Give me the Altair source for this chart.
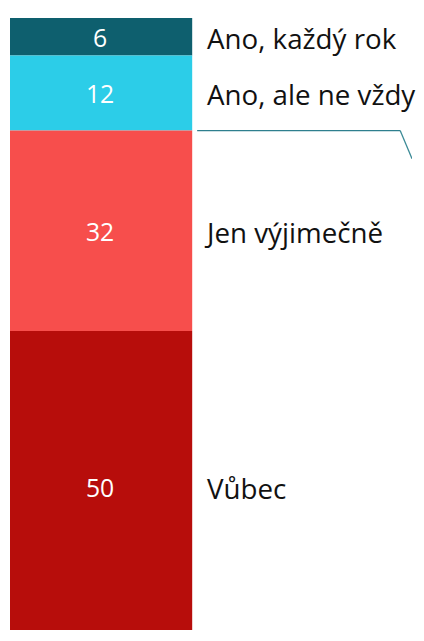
import altair as alt
import pandas as pd

categories = ["Ano, každý rok", "Ano, ale ne vždy", "Jen výjimečně", "Vůbec"]
values = [6, 12, 32, 50]
colors = ["#0e5f6e", "#2ccde8", "#f74e4c", "#b70d0b"]
leader_from = 18
leader_to = 22.5

ends = pd.Series(values).cumsum()
df = pd.DataFrame({
    "cat": categories,
    "value": values,
    "start": ends - pd.Series(values),
    "end": ends,
})
df["mid"] = (df["start"] + df["end"]) / 2

yscale = alt.Scale(domain=[0, 100], range=[0, 632], nice=False, zero=False)
color = alt.Color("cat:N", scale=alt.Scale(domain=categories, range=colors), legend=None)
FONT = "Open Sans"

base = alt.Chart(df)
bars = base.mark_bar(stroke=None, clip=True).encode(
    x=alt.value(0), x2=alt.value(184),
    y=alt.Y("start:Q", scale=yscale, axis=None),
    y2="end:Q",
    color=color,
)
vals = base.mark_text(font=FONT, fontSize=25, color="white", align="center", baseline="alphabetic", dy=10).encode(
    x=alt.value(91),
    y=alt.Y("mid:Q", scale=yscale, axis=None),
    text="value:Q",
)
labels = base.mark_text(font=FONT, fontSize=28, color="#111111", align="left", baseline="alphabetic", dy=12).encode(
    x=alt.value(199),
    y=alt.Y("mid:Q", scale=yscale, axis=None),
    text="cat:N",
)
ld = pd.DataFrame({"a": [leader_from], "b": [leader_to]})
h = alt.Chart(ld).mark_rule(color="#2e7f8e", strokeWidth=1.3).encode(
    x=alt.value(189), x2=alt.value(394),
    y=alt.Y("a:Q", scale=yscale, axis=None),
)
d = alt.Chart(ld).mark_rule(color="#3b8a96", strokeWidth=1.3, clip=True).encode(
    x=alt.value(394), x2=alt.value(406),
    y=alt.Y("a:Q", scale=yscale, axis=None),
    y2="b:Q",
)

chart = alt.layer(bars, vals, labels, h, d).properties(
    width=406, height=618, padding={"left": 2, "top": 7, "right": 0, "bottom": 0}
).configure_view(stroke=None)

chart.save("out.html", embed_options={"renderer": "svg", "actions": False})
